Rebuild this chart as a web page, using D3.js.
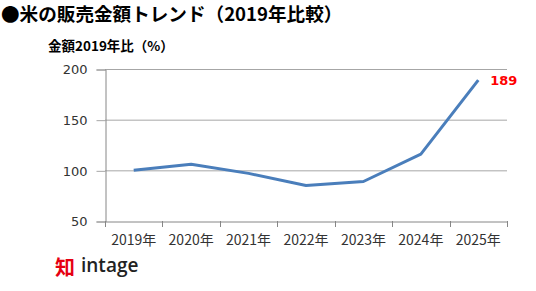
<!DOCTYPE html>
<html>
<head>
<meta charset="utf-8">
<script src="https://cdn.jsdelivr.net/npm/d3@7"></script>
<style>
  body { margin: 0; background: #fff; }
  svg { display: block; }
</style>
</head>
<body>
<div id="app"></div>
<script>
(function (d3) {
  'use strict'

  const years = ['2019年', '2020年', '2021年', '2022年', '2023年', '2024年', '2025年']
  const values = [100, 106, 97, 85, 89, 116, 189]
  const yTicks = [50, 100, 150, 200]

  const w = 536
  const h = 291
  const left = 105
  const right = 507
  const top = 69
  const bottom = 221

  const jp = '"Noto Sans CJK JP", sans-serif'
  const num = '"DejaVu Sans", Verdana, sans-serif'

  const svg = d3.select('#app').append('svg')
    .attr('width', w)
    .attr('height', h)

  // title
  svg.append('text')
    .attr('x', 1)
    .attr('y', 21)
    .style('font-family', jp)
    .style('font-weight', 'bold')
    .style('font-size', '18.6px')
    .text('●米の販売金額トレンド（2019年比較）')

  svg.append('text')
    .attr('x', 48)
    .attr('y', 51)
    .style('font-family', jp)
    .style('font-weight', 'bold')
    .style('font-size', '13.5px')
    .text('金額2019年比（%）')

  const xScale = d3.scaleBand()
    .domain(years)
    .range([left, right])

  const yScale = d3.scaleLinear()
    .domain([50, 200])
    .range([bottom, top])

  // gridlines
  svg.append('g')
    .selectAll('line')
    .data(yTicks.slice(1))
    .enter()
    .append('line')
    .attr('x1', left)
    .attr('x2', right)
    .attr('y1', d => yScale(d) + 0.5)
    .attr('y2', d => yScale(d) + 0.5)
    .attr('stroke', '#a6a6a6')
    .attr('stroke-width', 1)

  // y axis
  const yAxis = d3.axisLeft(yScale).tickValues(yTicks).tickSize(9).tickPadding(9)
  const gy = svg.append('g')
    .attr('transform', 'translate(' + (left + 0.5) + ',0.5)')
    .call(yAxis)
  gy.select('.domain').attr('stroke', '#868686')
  gy.selectAll('.tick line').attr('stroke', '#a6a6a6')
  gy.selectAll('.tick text')
    .style('font-family', num)
    .style('font-size', '13px')
    .attr('fill', '#333')

  // x axis
  const xAxis = d3.axisBottom(xScale).tickSize(0).tickPadding(14)
  const gx = svg.append('g')
    .attr('transform', 'translate(0,' + (bottom + 0.5) + ')')
    .call(xAxis)
  gx.select('.domain').attr('stroke', '#868686')
  gx.selectAll('.tick text')
    .style('font-family', jp)
    .style('font-size', '14px')
    .attr('fill', '#333')

  // category boundary ticks
  const bounds = years.map(d => xScale(d)).concat([right])
  svg.append('g')
    .selectAll('line')
    .data(bounds)
    .enter()
    .append('line')
    .attr('x1', d => Math.round(d) + 0.5)
    .attr('x2', d => Math.round(d) + 0.5)
    .attr('y1', bottom)
    .attr('y2', bottom + 6)
    .attr('stroke', '#868686')

  // line
  const line = d3.line()
    .x((d, i) => xScale(years[i]) + xScale.bandwidth() / 2)
    .y(d => yScale(d))

  svg.append('path')
    .datum(values)
    .attr('d', line)
    .attr('fill', 'none')
    .attr('stroke', '#4a7ebb')
    .attr('stroke-width', 3)
    .attr('stroke-linejoin', 'round')

  // last value label
  const last = values.length - 1
  svg.append('text')
    .attr('x', xScale(years[last]) + xScale.bandwidth() / 2 + 12)
    .attr('y', yScale(values[last]) + 5)
    .style('font-family', num)
    .style('font-weight', 'bold')
    .style('font-size', '13px')
    .attr('fill', '#ff0000')
    .text(values[last])

  // logo
  const logo = svg.append('g').attr('transform', 'translate(55,256)')
  logo.append('text')
    .attr('x', 0)
    .attr('y', 19)
    .style('font-family', jp)
    .style('font-weight', 'bold')
    .style('font-size', '20px')
    .attr('fill', '#e60012')
    .text('知')
  logo.append('text')
    .attr('x', 26)
    .attr('y', 16)
    .style('font-family', '"Open Sans", sans-serif')
    .style('font-weight', '600')
    .style('font-size', '19px')
    .attr('fill', '#222')
    .text('intage')
}(d3))
</script>
</body>
</html>
